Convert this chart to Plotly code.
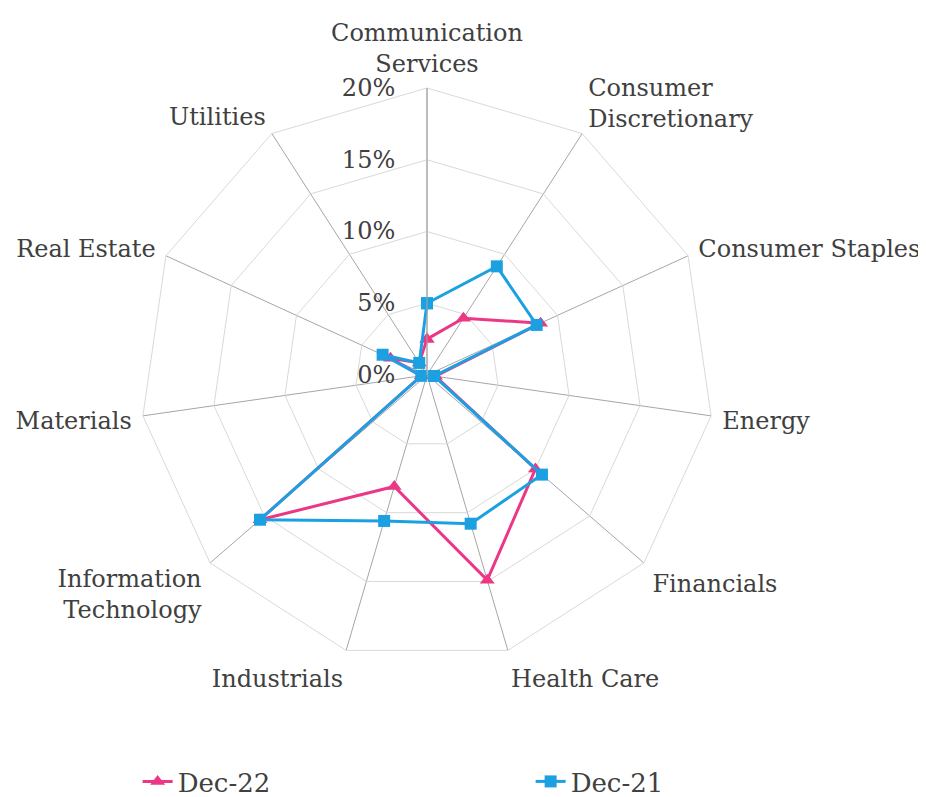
import plotly.graph_objects as go

sectors = ['Communication<br>Services', 'Consumer<br>Discretionary', 'Consumer Staples',
           'Energy', 'Financials', 'Health Care', 'Industrials',
           'Information<br>Technology', 'Materials', 'Real Estate', 'Utilities']
dec22 = [2.5, 4.7, 8.7, 0.6, 10.0, 14.9, 8.1, 15.4, 0.4, 2.8, 1.0]
dec21 = [5.0, 9.0, 8.4, 0.5, 10.6, 10.8, 10.6, 15.4, 0.4, 3.4, 1.0]
tick_vals = [0, 5, 10, 15, 20]
tick_text = ['0%', '5%', '10%', '15%', '20%']

PINK = '#EC3785'
BLUE = '#1BA1E2'
SERIF = 'DejaVu Serif'
PAD = '\u00a0' * 3

fig = go.Figure()
fig.add_trace(go.Scatterpolar(
    r=dec22 + dec22[:1], theta=sectors + sectors[:1], name='Dec-22',
    mode='lines+markers', line=dict(color=PINK, width=3),
    marker=dict(symbol='triangle-up', size=13, color=PINK)
))
fig.add_trace(go.Scatterpolar(
    r=dec21 + dec21[:1], theta=sectors + sectors[:1], name='Dec-21',
    mode='lines+markers', line=dict(color=BLUE, width=3),
    marker=dict(symbol='square', size=12, color=BLUE)
))

fig.update_layout(
    width=926, height=797,
    margin=dict(l=0, r=0, t=0, b=0),
    paper_bgcolor='white',
    font=dict(family=SERIF, size=24, color='#404040'),
    polar=dict(
        domain=dict(x=[132/926, 706/926], y=[1-654/797, 1-80/797]),
        bgcolor='white',
        gridshape='linear',
        angularaxis=dict(direction='clockwise', rotation=90,
                         gridcolor='#a6a6a6', linecolor='#d9d9d9', linewidth=1,
                         showline=True, ticks='outside', ticklen=6,
                         tickcolor='rgba(0,0,0,0)',
                         tickfont=dict(family=SERIF, size=24)),
        radialaxis=dict(range=[0, 20], tickvals=tick_vals,
                        ticktext=[t + PAD for t in tick_text],
                        angle=90, tickangle=90, side='counterclockwise',
                        showline=True, linecolor='#a6a6a6', gridcolor='#d9d9d9',
                        ticks='', tickfont=dict(family=SERIF, size=24)),
    ),
    legend=dict(orientation='h', x=0.140, xanchor='left', y=0.0, yanchor='bottom',
                entrywidth=348, entrywidthmode='pixels',
                font=dict(family=SERIF, size=26)),
)

fig.write_html('out.html')
